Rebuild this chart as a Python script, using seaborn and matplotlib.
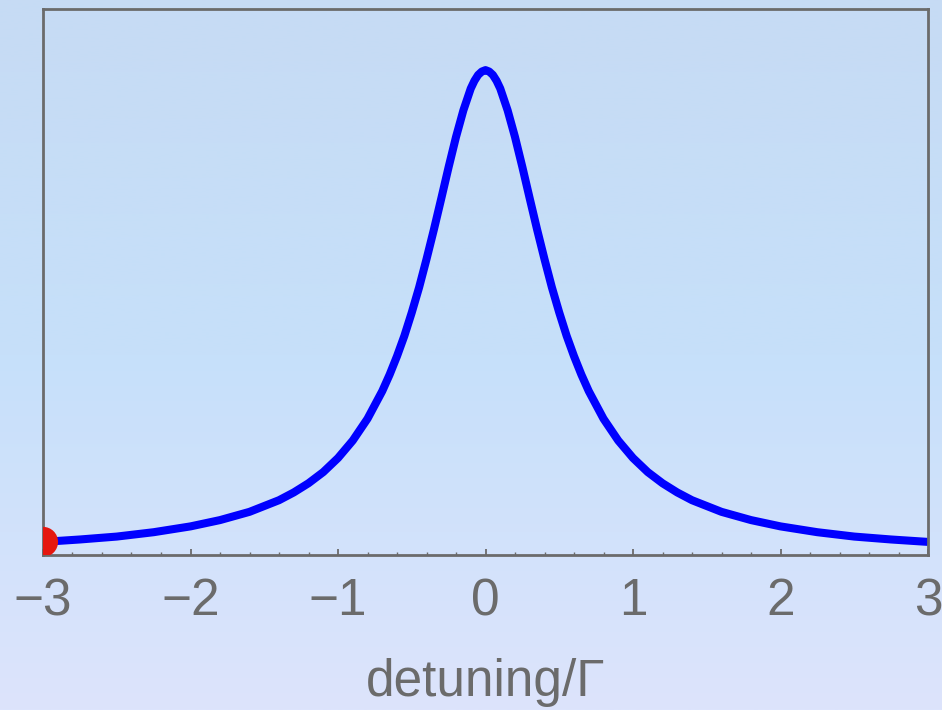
import numpy as np
import pandas as pd
import matplotlib
matplotlib.use("Agg")
import matplotlib.pyplot as plt
from matplotlib.colors import LinearSegmentedColormap
from matplotlib.ticker import MultipleLocator
import seaborn as sns

# ---- data ----
detuning = [-3.0, -2.75, -2.5, -2.25, -2.0, -1.8, -1.6, -1.4, -1.3, -1.2, -1.1, -1.0,
            -0.9, -0.8, -0.7, -0.65, -0.6, -0.55, -0.5, -0.45, -0.4, -0.35, -0.3,
            -0.25, -0.2, -0.15, -0.1, -0.075, -0.05, -0.025, 0.0,
            0.025, 0.05, 0.075, 0.1, 0.15, 0.2, 0.25, 0.3, 0.35, 0.4, 0.45, 0.5, 0.55, 0.6,
            0.65, 0.7, 0.8, 0.9, 1.0, 1.1, 1.2, 1.3, 1.4, 1.6, 1.8, 2.0,
            2.25, 2.5, 2.75, 3.0]
signal = [0.027, 0.032, 0.038, 0.047, 0.059, 0.072, 0.089, 0.113, 0.129, 0.148, 0.171, 0.200,
          0.236, 0.281, 0.338, 0.372, 0.410, 0.452, 0.500, 0.552, 0.610, 0.671, 0.735,
          0.800, 0.862, 0.917, 0.962, 0.978, 0.990, 0.997, 1.000,
          0.997, 0.990, 0.978, 0.962, 0.917, 0.862, 0.800, 0.735, 0.671, 0.610, 0.552, 0.500, 0.452, 0.410,
          0.372, 0.338, 0.281, 0.236, 0.200, 0.171, 0.148, 0.129, 0.113, 0.089, 0.072, 0.059,
          0.047, 0.038, 0.032, 0.027]
marker_x = [-3.0]
marker_y = [0.027]
xticks = [-3, -2, -1, 0, 1, 2, 3]
xlabel = "detuning/Γ"

df = pd.DataFrame({"detuning": detuning, "signal": signal})
dm = pd.DataFrame({"detuning": marker_x, "signal": marker_y})

sns.set_theme(style="ticks")
plt.rcParams["font.family"] = ["Liberation Sans", "DejaVu Sans"]

fig = plt.figure(figsize=(9.42, 7.10), dpi=100)

# gradient background
bg = fig.add_axes([0, 0, 1, 1], zorder=-10)
cmap = LinearSegmentedColormap.from_list(
    "bg", [(0.0, "#c6dbf4"), (0.5, "#c6e0fa"), (1.0, "#dde4fc")])
grad = np.linspace(0, 1, 256).reshape(-1, 1)
bg.imshow(grad, aspect="auto", cmap=cmap, extent=[0, 1, 0, 1], origin="upper")
bg.set_axis_off()

ax = fig.add_axes([43 / 942, 1 - 555 / 710, (928 - 43) / 942, (555 - 9) / 710])
ax.set_facecolor("none")

sns.lineplot(data=df, x="detuning", y="signal", ax=ax, color="#0000ff",
             linewidth=5.8, solid_capstyle="butt", solid_joinstyle="round")
sns.scatterplot(data=dm, x="detuning", y="signal", ax=ax, color="#e5170f",
                s=470, edgecolor="none", zorder=5, clip_on=True)

ax.set_xlim(-3, 3)
ax.set_ylim(0, 1.126)
ax.set_xticks(xticks)
ax.set_xticklabels(["\u2212" + str(abs(t)) if t < 0 else str(t) for t in xticks])
ax.xaxis.set_minor_locator(MultipleLocator(0.2))
ax.set_yticks([])

gray = "#6b6b6b"
for s in ax.spines.values():
    s.set_visible(True)
    s.set_color(gray)
    s.set_linewidth(2.0)

ax.tick_params(axis="x", which="major", direction="in", length=4.5, width=1.3,
               color=gray, labelcolor=gray, labelsize=37, pad=16)
ax.tick_params(axis="x", which="minor", direction="in", length=2.2, width=1.0,
               color=gray)
ax.set_xlabel(xlabel, fontsize=37, color=gray, labelpad=23)
ax.set_ylabel("")

fig.savefig("out.png", dpi=100)
